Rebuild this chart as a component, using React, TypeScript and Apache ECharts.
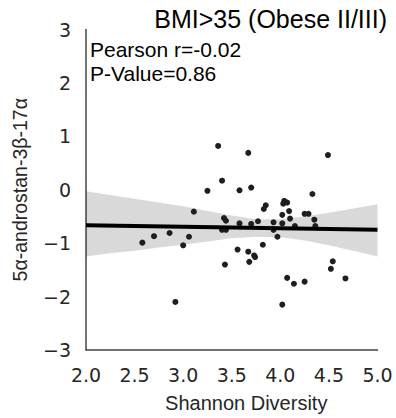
import React, { useEffect, useRef } from "react";
import * as echarts from "echarts";

// Shannon diversity (x) and 5α-androstan-3β-17α (y) for each subject
const diversity = [
  2.58, 2.70, 2.86, 3.00, 2.92, 3.06, 3.11, 3.36, 3.67, 3.40,
  3.25, 3.58, 3.70, 3.42, 3.44, 3.40, 3.44, 3.58, 3.70, 3.77,
  3.93, 3.93, 3.97, 3.85, 3.83, 3.56, 3.67, 3.73, 3.74, 3.82,
  3.43, 3.68, 4.49, 4.33, 4.04, 4.07, 4.03, 4.09, 4.02, 4.25,
  4.29, 4.10, 4.35, 4.02, 4.15, 4.36, 4.54, 4.52, 4.67, 4.07,
  4.14, 4.25, 4.02,
];
const androstan = [
  -0.99, -0.87, -0.81, -1.04, -2.10, -0.88, -0.41, 0.82, 0.69, 0.17,
  -0.02, -0.01, 0.04, -0.53, -0.58, -0.75, -0.75, -0.63, -0.64, -0.59,
  -0.61, -0.75, -0.88, -0.29, -0.36, -1.12, -1.16, -1.23, -1.26, -1.03,
  -1.40, -1.35, 0.65, -0.08, -0.21, -0.24, -0.26, -0.40, -0.47, -0.45,
  -0.45, -0.54, -0.56, -0.63, -0.68, -0.68, -1.34, -1.48, -1.66, -1.65,
  -1.76, -1.72, -2.15,
];

// Regression fit line
const fitX = [2.0, 5.0];
const fitY = [-0.663, -0.75];

// Confidence band
const bandX = [2.0, 2.25, 2.5, 2.75, 3.0, 3.25, 3.5, 3.75, 4.0, 4.25, 4.5, 4.75, 5.0];
const bandUpper = [-0.03, -0.10, -0.17, -0.24, -0.31, -0.40, -0.48, -0.55, -0.55, -0.50, -0.43, -0.35, -0.27];
const bandLower = [-1.25, -1.19, -1.14, -1.08, -1.03, -0.97, -0.91, -0.88, -0.89, -0.95, -1.04, -1.14, -1.25];

const titleText = "BMI>35 (Obese II/III)";
const statsText = "Pearson r=-0.02\nP-Value=0.86";
const xName = "Shannon Diversity";
const yName = "5α-androstan-3β-17α";

export default function App() {
  const ref = useRef<HTMLDivElement>(null);
  useEffect(() => {
    const chart = echarts.init(ref.current!, null, { renderer: "svg" });
    const sans = "Liberation Sans, Arial, sans-serif";
    const tickFont = "DejaVu Sans, sans-serif";
    chart.setOption({
      animation: false,
      backgroundColor: "#ffffff",
      title: [
        {
          text: titleText,
          right: 9,
          top: 6,
          padding: 0,
          textStyle: { fontFamily: sans, fontSize: 25, fontWeight: "normal", color: "#000" },
        },
        {
          text: statsText,
          left: 90,
          top: 38,
          padding: 0,
          textStyle: { fontFamily: sans, fontSize: 21, lineHeight: 23.7, fontWeight: "normal", color: "#000" },
        },
      ],
      grid: { left: 86, right: 18.5, top: 29.5, bottom: 66.5, containLabel: false },
      xAxis: {
        type: "value",
        min: 2,
        max: 5,
        interval: 0.5,
        axisLine: { show: true, onZero: false, lineStyle: { color: "#444", width: 1.5 } },
        axisTick: { show: false },
        splitLine: { show: false },
        axisLabel: {
          fontFamily: tickFont,
          fontSize: 19,
          color: "#262626",
          margin: 15,
          formatter: (v: number) => v.toFixed(1),
        },
        name: xName,
        nameLocation: "middle",
        nameGap: 43,
        nameTextStyle: { fontFamily: sans, fontSize: 20, color: "#262626", padding: [0, 0, 0, 29] },
      },
      yAxis: {
        type: "value",
        min: -3,
        max: 3,
        interval: 1,
        axisLine: { show: true, onZero: false, lineStyle: { color: "#444", width: 1.5 } },
        axisTick: { show: false },
        splitLine: { show: false },
        axisLabel: {
          fontFamily: tickFont,
          fontSize: 19,
          color: "#262626",
          margin: 15,
          formatter: (v: number) => (v < 0 ? "\u2212" + Math.abs(v) : String(v)),
        },
        name: yName,
        nameLocation: "middle",
        nameGap: 56,
        nameRotate: 90,
        nameTextStyle: { fontFamily: sans, fontSize: 19.5, color: "#262626" },
      },
      series: [
        {
          type: "custom",
          silent: true,
          z: 1,
          data: [[bandX[0], bandUpper[0]]],
          renderItem: (_params: any, api: any) => {
            const pts: number[][] = [];
            for (let i = 0; i < bandX.length; i++) pts.push(api.coord([bandX[i], bandUpper[i]]));
            for (let i = bandX.length - 1; i >= 0; i--) pts.push(api.coord([bandX[i], bandLower[i]]));
            return {
              type: "polygon",
              shape: { points: pts },
              style: { fill: "rgba(0,0,0,0.15)", stroke: "none" },
            };
          },
        },
        {
          type: "scatter",
          z: 2,
          symbolSize: 6,
          itemStyle: { color: "#1e1e1e", opacity: 1 },
          data: diversity.map((x, i) => [x, androstan[i]]),
        },
        {
          type: "line",
          z: 3,
          symbol: "none",
          lineStyle: { color: "#000", width: 4 },
          data: fitX.map((x, i) => [x, fitY[i]]),
        },
      ],
    });
    return () => chart.dispose();
  }, []);
  return (
    <div
      ref={ref}
      style={{ position: "fixed", left: 0, top: 0, width: 396, height: 418 }}
    />
  );
}
